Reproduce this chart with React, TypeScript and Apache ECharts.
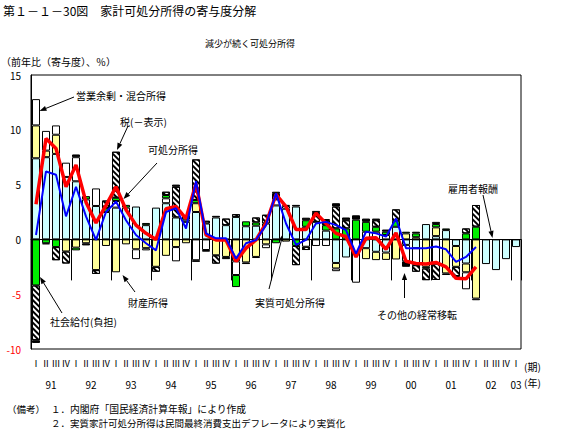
import React, { useEffect, useRef } from 'react';
import * as echarts from 'echarts';

const FONT = '"Noto Sans CJK JP", "Noto Sans", sans-serif';

// Fiscal years (quarters 1991 I .. 2003 I)
const years = ['91', '92', '93', '94', '95', '96', '97', '98', '99', '00', '01', '02', '03'];
const quarterNames = ['Ⅰ', 'Ⅱ', 'Ⅲ', 'Ⅳ'];
const yTicks = { min: -10, max: 15, interval: 5 };

// 雇用者報酬 (compensation of employees)
const employees = [
  7.4, 7.5, 7.8, 5.7, 5.3, 3.65, 3.05, 2.5, 2.9, 2.9, 3.0, 1.3, 2.9, 3.3, 2.0, 1.6,
  2.5, 1.45, 2.0, 1.3, 2.05, 1.2, 1.25, 1.45, 3.1, 2.8, 3.0, 1.15, 1.6, 0.8, -2.15, -1.65,
  0, -0.8, -1.13, -1.2, 1.15, -0.5, -0.8, 1.4, 0.3, 0.85, -0.6, -2.2, 0, -2.25, -2.8, -1.8,
  -0.7,
];
// 財産所得 (property income)
const property = [
  3.0, 0.6, 1.75, -1.1, -0.75, -0.35, -2.8, -0.6, -3.0, -0.45, -0.9, -0.8, -2.5, -1.5, -0.7, -0.35,
  0.8, 0, -1.45, -1.6, -2.0, -2.1, -1.6, -0.45, 0, -0.2, 0, 0, 0, 0, -0.5, 0,
  0, -1.0, -0.76, -0.67, -1.83, 0.55, 0.2, -2.5, 0.8, -3.1, -1.9, -0.8, -5.4, 0, 0, 0,
  0,
];
// 営業余剰・混合所得 (operating surplus / mixed income)
const surplus = [
  2.4, 1.8, 0.85, 1.3, 2.2, 0, 1.6, 0, 0.6, 0, -0.9, -0.2, 0, 0.45, -1.3, 0.2,
  -1.9, -0.97, 0, 0, -1.25, 0, 0, -0.35, 0.55, 0.25, 0, -0.67, -0.6, -0.6, -0.25, 0,
  -3.95, 0.7, 0.7, 0.4, 0, -1.5, -1.55, 0, -2.2, 0, 0, -1.55, -0.15, 0, 0, 0,
  0,
];
// 社会給付(負担) (social benefits, net)
const social = [
  -4.2, -0.35, -0.7, 0, -0.25, 0.3, 0, 0.35, 0.3, 0.25, 0, 0.2, 0, 0.3, 0, 0.4,
  0.3, 0, 0, 0, -1.1, 0.45, 0.3, 0, -0.35, 0, -0.6, 0.6, 0, 0.5, 1.0, 1.0,
  1.8, 0.9, 0.45, 0.3, 0.55, 0.15, 0.35, -0.15, 0.3, 0.15, 0, 0.55, 1.16, 0, 0, 0,
  0,
];
// 税(－表示) (taxes, sign reversed)
const taxes = [
  -5.0, 0, -1.2, -1.1, 0, 0, -0.35, 0.7, 4.2, 0, 0, 0, -0.45, 0.3, 2.8, 0,
  3.7, 0.25, -0.76, 0.6, 0.25, 0, 0.45, 0.8, 0.5, 0, -1.75, -0.3, 0.8, 0.45, 2.0, 0.75,
  0, 0, 0.6, 0, 1.04, 0, -0.6, -1.07, -1.5, 0, -0.85, 0.45, 1.98, 0, 0, 0,
  0,
];
// その他の経常移転 (other current transfers)
const otherTransfers = [
  -0.25, -0.1, 0, 0, 0.25, -0.2, 0, 0, 0, 0, 0, 0, 0, 0, 0.2, 0,
  -0.15, -0.15, 0.15, -0.2, 0, -0.15, -0.1, 0, 0.2, 0.1, 0.15, 0.23, 0.2, 0.1, 0.3, 0.25,
  0.4, 0.3, 0.15, 0.2, 0, -0.5, 0.15, 0, 0.2, -0.15, -0.1, 0, 0, 0, 0, 0,
  0,
];
// 可処分所得 (disposable income, % yoy)
const disposable = [
  3.2, 9.2, 8.3, 4.8, 6.8, 3.4, 1.5, 3.1, 4.8, 2.7, 1.3, 0.55, 0.0, 2.8, 3.0, 1.9,
  5.1, 0.4, -0.05, -0.05, -2.0, -0.8, -0.05, 1.45, 4.1, 3.0, 0.9, 0.9, 2.4, 1.45, 0.55, 0.25,
  -1.6, 0.1, 0.15, -0.9, 0.6, -2.0, -2.2, -2.25, -2.1, -2.5, -3.55, -3.6, -2.5, null, null, null,
  null,
];
// 実質可処分所得 (real disposable income)
const realDisposable = [
  0.4, 6.2, 5.9, 2.1, 4.8, 2.1, -0.05, 2.5, 3.45, 1.75, 0.4, -0.35, -1.0, 2.5, 2.85, 1.0,
  5.3, 0.55, 0.1, 0.1, -1.75, -0.35, -0.05, 1.3, 4.2, 1.45, -0.5, -0.05, 1.45, 1.6, 1.3, 0.85,
  -1.3, 0.7, 0.55, 0.25, 1.9, -0.8, -0.8, -0.8, -0.65, -0.9, -2.05, -1.6, -0.7, null, null, null,
  null,
];

const annotations = [
  { text: '営業余剰・混合所得', x: 76, y: 95, from: [74, 97], to: [39.5, 111] },
  { text: '税(－表示)', x: 120, y: 121, from: [128, 126], to: [117, 150] },
  { text: '可処分所得', x: 148, y: 149, from: [157, 163], to: [123.5, 199] },
  { text: '雇用者報酬', x: 448, y: 188, from: [483, 195], to: [492.5, 238] },
  { text: '社会給付(負担)', x: 50, y: 321, from: [62, 313], to: [40, 277] },
  { text: '財産所得', x: 128, y: 302, from: [135, 292], to: [122.5, 275] },
  { text: '実質可処分所得', x: 255, y: 302, from: [269, 289], to: [283, 234] },
  { text: 'その他の経常移転', x: 377, y: 314, from: [404.5, 298], to: [404.5, 273] },
];

function arrow(from: number[], to: number[]) {
  const [x1, y1] = from;
  const [x2, y2] = to;
  const dx = x2 - x1;
  const dy = y2 - y1;
  const len = Math.sqrt(dx * dx + dy * dy);
  const ux = dx / len;
  const uy = dy / len;
  const hl = 7;
  const hw = 2.6;
  const bx = x2 - ux * hl;
  const by = y2 - uy * hl;
  return [
    { type: 'line', silent: true, shape: { x1, y1, x2: bx, y2: by }, style: { stroke: '#000', lineWidth: 1 } },
    {
      type: 'polygon', silent: true,
      shape: { points: [[x2, y2], [bx - uy * hw, by + ux * hw], [bx + uy * hw, by - ux * hw]] },
      style: { fill: '#000' },
    },
  ];
}

function txt(text: string, x: number, y: number, fontSize: number, align = 'left') {
  return {
    type: 'text', silent: true, x, y,
    style: { text, fontSize, fontFamily: FONT, fill: '#000', align, verticalAlign: 'middle' },
  };
}

function buildOption() {
  const quarterKeys: string[] = [];
  years.forEach((y) => {
    const qs = y === years[years.length - 1] ? quarterNames.slice(0, 1) : quarterNames;
    qs.forEach((q) => quarterKeys.push(`${y}|${q}`));
  });
  const lastYear = years[years.length - 1];
  const nz = (arr: number[]) => arr.map((v) => (v === 0 ? null : v));

  const barBase = { type: 'bar', stack: 'contrib', barWidth: 8, xAxisIndex: 0, yAxisIndex: 0 };
  const border = { borderColor: '#000', borderWidth: 1 };

  const graphics: any[] = [
    txt('第１－１－30図　家計可処分所得の寄与度分解', 3, 10, 12),
    txt('減少が続く可処分所得', 250, 43, 9, 'center'),
    txt('（前年比（寄与度）、％）', 1, 61, 10),
    txt('(期)', 524, 366, 10),
    txt('(年)', 524, 382, 10),
    txt('（備考）', 7, 409, 9.5),
    txt('１．', 51, 409, 9.5),
    txt('内閣府「国民経済計算年報」により作成', 70, 409, 9.8),
    txt('２．', 51, 423, 9.5),
    txt('実質家計可処分所得は民間最終消費支出デフレータにより実質化', 70, 423, 9.5),
  ];
  annotations.forEach((a) => {
    graphics.push(txt(a.text, a.x, a.y, 10));
    graphics.push(...arrow(a.from, a.to));
  });

  return {
    animation: false,
    backgroundColor: '#fff',
    textStyle: { fontFamily: FONT },
    grid: { left: 31, right: 46, top: 75, bottom: 92, show: true, borderColor: '#000', borderWidth: 1 },
    xAxis: [
      {
        type: 'category', data: quarterKeys, boundaryGap: true, position: 'bottom',
        axisLine: { show: true, lineStyle: { color: '#000', width: 1 } },
        axisTick: { show: true, interval: (i: number) => i % 4 === 0, length: 41, lineStyle: { color: '#000', width: 1 } },
        axisLabel: {
          interval: 0, margin: 10, fontSize: 9, color: '#000', fontFamily: FONT,
          formatter: (v: string) => v.split('|')[1],
        },
        splitLine: { show: false },
      },
      {
        type: 'category', data: quarterKeys, boundaryGap: true, position: 'bottom',
        axisLine: { show: false }, axisTick: { show: false }, splitLine: { show: false },
        axisLabel: {
          interval: (i: number, v: string) => v.endsWith('|Ⅱ') || v.startsWith(lastYear + '|'),
          margin: 30, fontSize: 10, color: '#000', fontFamily: FONT,
          formatter: (v: string) => {
            const y = v.split('|')[0];
            return y === lastYear ? `{b|${y}}` : `{a|${y}}`;
          },
          rich: {
            a: { padding: [0, 0, 0, 10], fontSize: 10, fontFamily: FONT, color: '#000' },
            b: { fontSize: 10, fontFamily: FONT, color: '#000' },
          },
        },
      },
    ],
    yAxis: {
      type: 'value', min: yTicks.min, max: yTicks.max, interval: yTicks.interval,
      axisLine: { show: true, lineStyle: { color: '#000' } },
      axisTick: { show: false },
      splitLine: { show: false },
      axisLabel: {
        margin: 10, fontSize: 10, fontFamily: FONT,
        color: (v: any) => (Number(v) < 0 ? '#ff0000' : '#000'),
      },
    },
    series: [
      {
        ...barBase, name: '雇用者報酬', data: nz(employees),
        itemStyle: { color: '#ccffff', ...border },
        markLine: {
          silent: true, symbol: 'none', label: { show: false },
          lineStyle: { color: '#000', width: 1, type: 'solid' },
          data: [{ yAxis: 0 }],
        },
      },
      { ...barBase, name: '財産所得', data: nz(property), itemStyle: { color: '#ffff99', ...border } },
      { ...barBase, name: '営業余剰・混合所得', data: nz(surplus), itemStyle: { color: '#ffffff', ...border } },
      { ...barBase, name: '社会給付(負担)', data: nz(social), itemStyle: { color: '#00ee00', ...border } },
      {
        ...barBase, name: '税(－表示)', data: nz(taxes),
        itemStyle: {
          color: '#ffffff', ...border,
          decal: {
            symbol: 'rect', symbolSize: 1, dashArrayX: [1, 0], dashArrayY: [2, 2],
            rotation: Math.PI / 4, color: '#000', backgroundColor: '#ffffff',
          },
        },
      },
      { ...barBase, name: 'その他の経常移転', data: nz(otherTransfers), itemStyle: { color: '#000000', ...border } },
      {
        type: 'line', name: '可処分所得', data: disposable, symbol: 'none', z: 5,
        lineStyle: { color: '#ff0000', width: 3.5 },
      },
      {
        type: 'line', name: '実質可処分所得', data: realDisposable, symbol: 'none', z: 6,
        lineStyle: { color: '#0000ff', width: 2 },
      },
    ],
    graphic: { elements: graphics },
  };
}

export default function App() {
  const ref = useRef<HTMLDivElement>(null);
  useEffect(() => {
    document.body.style.margin = '0';
    const chart = echarts.init(ref.current as HTMLDivElement, null, { renderer: 'svg' });
    chart.setOption(buildOption() as any);
    return () => chart.dispose();
  }, []);
  return <div ref={ref} style={{ width: 567, height: 441, background: '#fff' }} />;
}
